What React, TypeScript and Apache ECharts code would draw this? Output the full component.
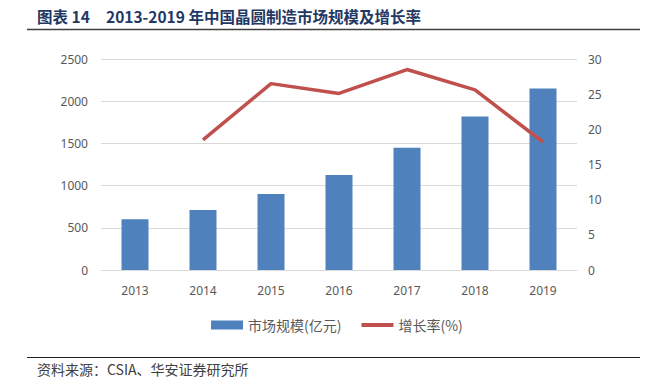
import React, { useEffect, useRef } from "react";
import * as echarts from "echarts";

const years = ["2013", "2014", "2015", "2016", "2017", "2018", "2019"];
const marketSize = [600.9, 712.1, 900.8, 1126.9, 1448.1, 1818.2, 2149.1];
const growthRate = [null, 18.5, 26.5, 25.1, 28.5, 25.6, 18.2];
const titleLabel = "图表 14";
const titleText = "2013-2019 年中国晶圆制造市场规模及增长率";
const sourceText = "资料来源：CSIA、华安证券研究所";
const barName = "市场规模(亿元)";
const lineName = "增长率(%)";

export default function App() {
  const ref = useRef<HTMLDivElement>(null);
  useEffect(() => {
    if (!ref.current) return;
    const chart = echarts.init(ref.current, null, { renderer: "svg" });
    const axisLabel = {
      color: "#595959",
      fontSize: 12,
      fontFamily: "Noto Sans, sans-serif",
      formatter: (v: number | string) => String(v),
    };
    chart.setOption({
      animation: false,
      backgroundColor: "#ffffff",
      grid: { left: 101, right: 76, top: 59, bottom: 120 },
      legend: {
        top: 313,
        left: 206,
        itemWidth: 32,
        itemHeight: 9,
        itemGap: 20,
        textStyle: { color: "#595959", fontSize: 14, fontFamily: "Noto Sans CJK SC, sans-serif" },
        data: [
          { name: barName, icon: "rect" },
          { name: lineName, icon: "path://M0,0H32V4H0Z", itemStyle: { color: "#C0504D" } },
        ],
      },
      xAxis: {
        type: "category",
        data: years,
        axisLine: { show: true, lineStyle: { color: "#D9D9D9", width: 1 } },
        axisTick: { show: false },
        axisLabel: { color: "#595959", fontSize: 12, fontFamily: "Noto Sans, sans-serif", margin: 14 },
      },
      yAxis: [
        {
          type: "value",
          min: 0,
          max: 2500,
          interval: 500,
          axisLine: { show: false },
          axisTick: { show: false },
          splitLine: { lineStyle: { color: "#D9D9D9", width: 1 } },
          axisLabel: { ...axisLabel, margin: 13 },
        },
        {
          type: "value",
          min: 0,
          max: 30,
          interval: 5,
          axisLine: { show: false },
          axisTick: { show: false },
          splitLine: { show: false },
          axisLabel: { ...axisLabel, margin: 11 },
        },
      ],
      series: [
        {
          name: barName,
          type: "bar",
          data: marketSize,
          barWidth: 27,
          itemStyle: { color: "#4F81BD" },
        },
        {
          name: lineName,
          type: "line",
          yAxisIndex: 1,
          data: growthRate,
          symbol: "none",
          connectNulls: false,
          lineStyle: { color: "#C0504D", width: 3.5 },
          itemStyle: { color: "#C0504D" },
        },
      ],
      graphic: [
        {
          type: "text",
          left: 37,
          top: 8,
          style: {
            text: titleLabel,
            fill: "#1F3864",
            font: "bold 15.5px 'Noto Sans CJK SC', serif",
          },
        },
        {
          type: "text",
          left: 106,
          top: 8,
          style: {
            text: titleText,
            fill: "#1F3864",
            font: "bold 15.5px 'Noto Sans CJK SC', serif",
          },
        },
        {
          type: "line",
          shape: { x1: 27, y1: 29.5, x2: 640, y2: 29.5 },
          style: { stroke: "#404040", lineWidth: 1.5 },
        },
        {
          type: "line",
          shape: { x1: 27, y1: 357.5, x2: 640, y2: 357.5 },
          style: { stroke: "#202020", lineWidth: 1 },
        },
        {
          type: "text",
          left: 37,
          top: 362,
          style: {
            text: sourceText,
            fill: "#404040",
            font: "14px 'Noto Sans CJK SC', serif",
          },
        },
      ],
    });
    return () => chart.dispose();
  }, []);
  return (
    <div
      ref={ref}
      style={{ position: "fixed", left: 0, top: 0, width: 653, height: 390 }}
    />
  );
}
